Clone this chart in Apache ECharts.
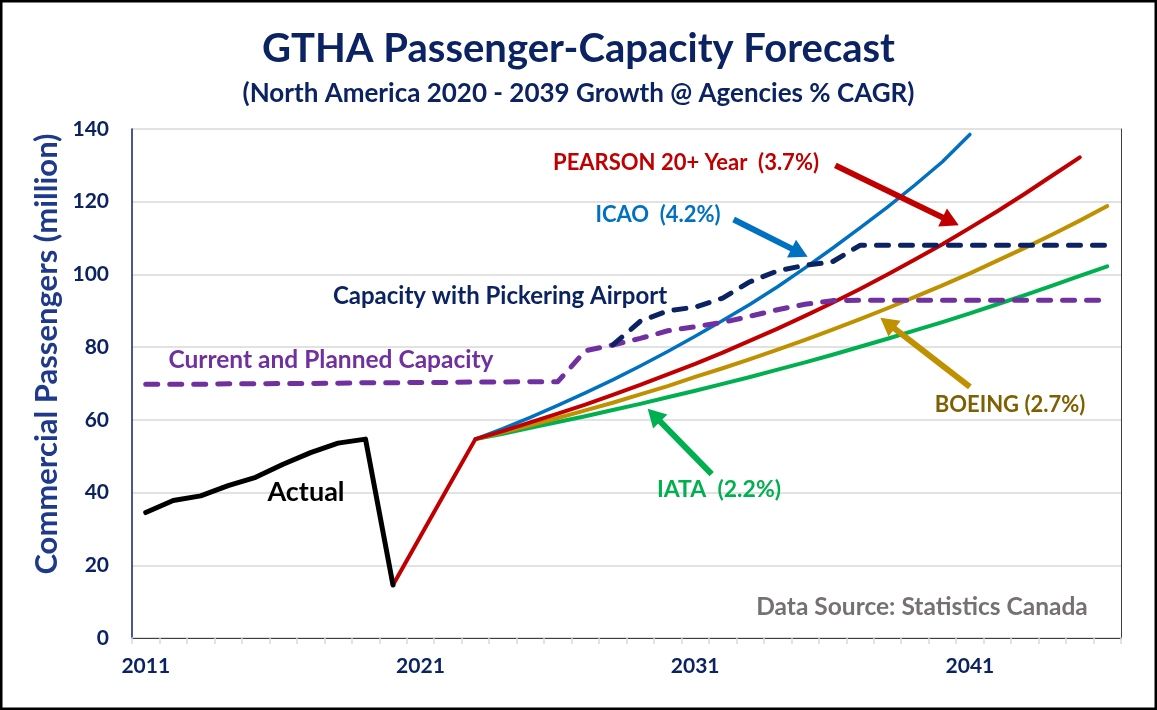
<!DOCTYPE html>
<html>
<head>
<meta charset="utf-8">
<script src="https://cdn.jsdelivr.net/npm/echarts@6/dist/echarts.min.js"></script>
<style>
html,body{margin:0;padding:0;background:#fff;}
#chart{width:1157px;height:710px;}
</style>
</head>
<body>
<div id="chart"></div>
<script>
// ---- Data (millions of passengers) ----
const tickYears = [2011, 2021, 2031, 2041];
const actualStart = 2011;
const actual = [34.5, 37.8, 39.1, 41.9, 44.2, 47.8, 51.0, 53.6, 54.7, 14.6];
const pearsonStart = 2020;
const pearson = [14.6, 28.0, 41.4, 54.7, 56.9, 59.3, 61.7, 64.2, 66.9, 69.6, 72.5, 75.4, 78.5, 81.8, 85.1, 88.6, 92.2, 96.0, 100.0, 104.1, 108.3, 112.8, 117.4, 122.2, 127.2, 132.2];
const icaoStart = 2023;
const icao = [54.7, 57.6, 60.7, 64.0, 67.4, 71.0, 74.8, 78.8, 83.0, 87.3, 91.8, 96.6, 101.8, 107.2, 112.8, 118.5, 124.6, 131.0, 138.5];
const boeingStart = 2023;
const boeing = [54.7, 56.6, 58.5, 60.5, 62.6, 64.7, 67.0, 69.3, 71.8, 74.2, 76.7, 79.3, 82.0, 84.8, 87.7, 90.7, 93.8, 97.0, 100.3, 103.8, 107.3, 111.0, 114.8, 118.8];
const iataStart = 2023;
const iata = [54.7, 56.2, 57.8, 59.4, 61.0, 62.7, 64.4, 66.2, 68.0, 69.9, 71.8, 73.8, 75.8, 77.9, 80.1, 82.3, 84.6, 86.9, 89.3, 91.8, 94.3, 96.9, 99.6, 102.2];
const currentCapStart = 2011;
const currentCap = [69.8, 69.8, 69.8, 69.9, 69.9, 70.0, 70.0, 70.1, 70.2, 70.2, 70.3, 70.3, 70.4, 70.4, 70.5, 70.5, 79.0, 80.6, 82.4, 84.5, 85.6, 86.8, 88.5, 90.3, 91.8, 92.8, 92.9, 92.9, 92.9, 92.9, 92.9, 92.9, 92.9, 92.9, 92.9, 92.9];
const pickeringStart = 2028;
const pickering = [80.6, 87.1, 90.0, 91.0, 93.5, 98.0, 101.0, 102.5, 103.5, 108.0, 108.0, 108.0, 108.0, 108.0, 108.0, 108.0, 108.0, 108.0, 108.0];

// arrow annotations in data space: [fromYear, fromValue, toYear, toValue]
const pearsonArrow = [2036.1, 130.0, 2040.3, 114.6];
const icaoArrow = [2032.4, 115.1, 2034.8, 106.0];
const boeingArrow = [2041.0, 69.1, 2038.0, 86.6];
const iataArrow = [2031.6, 45.1, 2029.5, 61.3];

function pairs(start, vals) { return vals.map((v, i) => [start + i, v]); }
const boundaryTicks = [];
for (let y = 2010.5; y <= 2046.5; y += 1) boundaryTicks.push(y);

const FONT = 'Lato, "Open Sans", sans-serif';
const NAVY = '#0B2263';

function arrowMark(a, color, width) {
  return {
    silent: true,
    symbol: ['none', 'triangle'],
    symbolSize: [20, 18],
    label: { show: false },
    lineStyle: { color: color, width: width, type: 'solid' },
    emphasis: { disabled: true },
    data: [[{ coord: [a[0], a[1]] }, { coord: [a[2], a[3]] }]]
  };
}

function lineSeries(name, data, color, width, extra) {
  return Object.assign({
    name: name, type: 'line', data: data, showSymbol: false, symbol: 'none',
    lineStyle: { color: color, width: width, cap: 'round', join: 'round' },
    itemStyle: { color: color }, z: 3
  }, extra || {});
}

const chart = echarts.init(document.getElementById('chart'), null, { renderer: 'canvas' });
chart.setOption({
  animation: false,
  backgroundColor: '#fff',
  title: [{
    text: 'GTHA Passenger-Capacity Forecast',
    left: 'center', top: 24,
    textStyle: { fontFamily: FONT, fontWeight: 'bold', fontSize: 40, color: NAVY }
  }, {
    text: '(North America 2020 - 2039 Growth @ Agencies % CAGR)',
    left: 'center', top: 76,
    textStyle: { fontFamily: FONT, fontWeight: 'bold', fontSize: 26, color: NAVY }
  }],
  grid: { left: 132, right: 36, top: 129, bottom: 72, containLabel: false },
  xAxis: [{
    type: 'value', min: 2010.5, max: 2046.5,
    axisLine: { show: true, lineStyle: { color: '#D9D9D9', width: 1.5 } },
    axisTick: { show: true, customValues: boundaryTicks, length: 6, lineStyle: { color: '#D9D9D9', width: 1.5 } },
    axisLabel: { customValues: tickYears, formatter: v => String(v), margin: 18, fontFamily: FONT, fontWeight: 'bold', fontSize: 21, color: NAVY },
    splitLine: { show: false }
  }, {
    type: 'value', position: 'top', min: 2010.5, max: 2046.5,
    axisLine: { show: true, lineStyle: { color: '#3F3F3F', width: 1 } },
    axisTick: { show: false }, axisLabel: { show: false }, splitLine: { show: false }
  }],
  yAxis: [{
    type: 'value', min: 0, max: 140, interval: 20,
    axisLine: { show: true, lineStyle: { color: '#0B2263', width: 1.5 } },
    axisTick: { show: false },
    axisLabel: { margin: 23, fontFamily: FONT, fontWeight: 'bold', fontSize: 21, color: NAVY },
    splitLine: { show: true, lineStyle: { color: '#D9D9D9', width: 1.5 } }
  }, {
    type: 'value', position: 'right', min: 0, max: 140,
    axisLine: { show: true, lineStyle: { color: '#3F3F3F', width: 1 } },
    axisTick: { show: false }, axisLabel: { show: false }, splitLine: { show: false }
  }],
  series: [
    lineSeries('IATA', pairs(iataStart, iata), '#00B050', 4, { markLine: arrowMark(iataArrow, '#00B050', 6) }),
    lineSeries('BOEING', pairs(boeingStart, boeing), '#BF9000', 4, { markLine: arrowMark(boeingArrow, '#BF9000', 6) }),
    lineSeries('ICAO', pairs(icaoStart, icao), '#0070C0', 3.5, { markLine: arrowMark(icaoArrow, '#0070C0', 6) }),
    lineSeries('PEARSON', pairs(pearsonStart, pearson), '#C00000', 4, { markLine: arrowMark(pearsonArrow, '#C00000', 6) }),
    lineSeries('Actual', pairs(actualStart, actual), '#000000', 5),
    Object.assign(lineSeries('Current and Planned Capacity', pairs(currentCapStart, currentCap), '#7030A0', 5), {
      lineStyle: { color: '#7030A0', width: 5, type: [12, 12], cap: 'round', join: 'round' }, z: 4
    }),
    Object.assign(lineSeries('Capacity with Pickering Airport', pairs(pickeringStart, pickering), '#0B2263', 5), {
      lineStyle: { color: '#0B2263', width: 5, type: [12, 12], cap: 'round', join: 'round' }, z: 4
    })
  ],
  graphic: [
    { type: 'rect', shape: { x: 1, y: 1, width: 1155, height: 708 }, style: { fill: 'none', stroke: '#000', lineWidth: 3 }, silent: true, z: 100 },
    { type: 'text', x: 47, y: 354, rotation: Math.PI / 2, style: { text: 'Commercial Passengers (million)', fill: '#1F3A8A', font: 'bold 31px ' + FONT, align: 'center', verticalAlign: 'middle' }, z: 50 },
    { type: 'text', x: 686, y: 163, style: { text: 'PEARSON 20+ Year  (3.7%)', fill: '#C00000', font: 'bold 22px ' + FONT, align: 'center', verticalAlign: 'middle' }, z: 50 },
    { type: 'text', x: 658, y: 215, style: { text: 'ICAO  (4.2%)', fill: '#0070C0', font: 'bold 22px ' + FONT, align: 'center', verticalAlign: 'middle' }, z: 50 },
    { type: 'text', x: 500, y: 296, style: { text: 'Capacity with Pickering Airport', fill: '#0B2263', font: 'bold 24px ' + FONT, align: 'center', verticalAlign: 'middle' }, z: 50 },
    { type: 'text', x: 331, y: 360, style: { text: 'Current and Planned Capacity', fill: '#7030A0', font: 'bold 24.5px ' + FONT, align: 'center', verticalAlign: 'middle' }, z: 50 },
    { type: 'text', x: 306, y: 492, style: { text: 'Actual', fill: '#000000', font: 'bold 27px ' + FONT, align: 'center', verticalAlign: 'middle' }, z: 50 },
    { type: 'text', x: 1010, y: 405, style: { text: 'BOEING (2.7%)', fill: '#7F6000', font: 'bold 22px ' + FONT, align: 'center', verticalAlign: 'middle' }, z: 50 },
    { type: 'text', x: 719, y: 490, style: { text: 'IATA  (2.2%)', fill: '#00B050', font: 'bold 23px ' + FONT, align: 'center', verticalAlign: 'middle' }, z: 50 },
    { type: 'text', x: 922, y: 607, style: { text: 'Data Source: Statistics Canada', fill: '#767171', font: 'bold 24.5px ' + FONT, align: 'center', verticalAlign: 'middle' }, z: 50 }
  ]
});
</script>
</body>
</html>
